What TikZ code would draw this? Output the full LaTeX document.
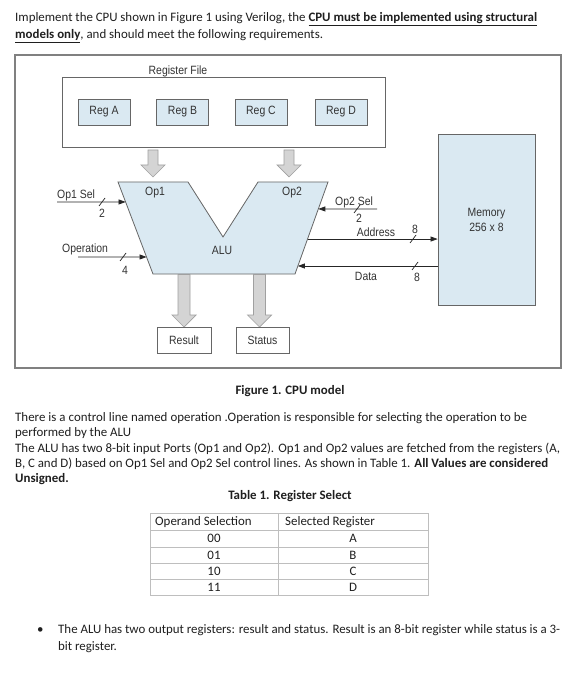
\documentclass[tikz,border=0pt]{standalone}
\usepackage{fontspec}
\setmainfont{Carlito}
\newfontfamily\diagfont{Liberation Sans}[FakeStretch=0.87]
\usetikzlibrary{arrows.meta,calc}
\definecolor{boxblue}{RGB}{218,233,242}
\definecolor{arrgray}{RGB}{212,212,212}
\definecolor{arredge}{RGB}{160,160,160}
\definecolor{tabline}{RGB}{190,190,190}
\newcommand\fitline[2]{\makebox[#1][s]{#2}}
\begin{document}
\begin{tikzpicture}[x=1pt,y=-1pt,
  txt/.style={anchor=base west, inner sep=0pt, font=\fontsize{12.9}{15}\selectfont, text=black!88},
  ctxt/.style={anchor=base, inner sep=0pt, font=\fontsize{12.9}{15}\selectfont, text=black!88},
  dtxt/.style={inner sep=0pt, font=\diagfont\fontsize{12}{14}\selectfont, text=black!80},
  reg/.style={draw=black!60, fill=boxblue, line width=0.8pt, minimum width=52pt, minimum height=26pt, inner sep=0pt, font=\diagfont\fontsize{12}{14}\selectfont, text=black!80},
  obox/.style={draw=black!60, fill=white, line width=0.8pt, minimum height=26pt, inner sep=0pt, font=\diagfont\fontsize{12}{14}\selectfont, text=black!80},
  sig/.style={draw=black!85, line width=0.7pt, -{Triangle[length=7pt,width=5pt]}},
  wire/.style={draw=black!85, line width=0.7pt},
  gblock/.style={draw=arredge, fill=arrgray, line width=0.7pt},
  tab/.style={draw=tabline, line width=0.6pt}
]
\useasboundingbox (0,0) rectangle (580,700);
\fill[white] (0,0) rectangle (580,700);

% ---------- top text ----------
\node[txt] (t1) at (15,22) {\fitline{522pt}{Implement the CPU shown in Figure 1 using Verilog, the \underline{\textbf{CPU must be implemented using structural}}}};
\node[txt] (t2) at (15,39) {\underline{\textbf{models only}}, and should meet the following requirements.};

% ---------- figure frame ----------
\draw[draw=black!50, line width=1.2pt] (15,55) rectangle (561,368);

% register file
\node[dtxt] (rflabel) at (178,71) {Register File};
\draw[draw=black!60, line width=0.8pt] (62,77) rectangle (385,147);
\node[reg] (rA) at (104,112) {Reg A};
\node[reg] (rB) at (182.5,112) {Reg B};
\node[reg] (rC) at (261,112) {Reg C};
\node[reg] (rD) at (341,112) {Reg D};

% ALU shape
\coordinate (aTL) at (118,182);
\coordinate (aN1) at (188,182);
\coordinate (aV) at (223,237);
\coordinate (aN2) at (258,182);
\coordinate (aTR) at (328,182);
\coordinate (aBR) at (295,274);
\coordinate (aBL) at (153,274);
\draw[draw=black!60, fill=boxblue, line width=0.8pt] (aTL) -- (aN1) -- (aV) -- (aN2) -- (aTR) -- (aBR) -- (aBL) -- cycle;
\node[dtxt] (op1) at (155,193) {Op1};
\node[dtxt] (op2) at (292,193) {Op2};
\node[dtxt] (alu) at (222,250) {ALU};

% gray block arrows (register file -> ALU)
\foreach \cx in {153,289}{
  \draw[gblock] (\cx-5,150) -- (\cx+5,150) -- (\cx+5,165) -- (\cx+12,165) -- (\cx,177) -- (\cx-12,165) -- (\cx-5,165) -- cycle;
}
% gray block arrows (ALU -> outputs)
\foreach \cx in {184,259.5}{
  \draw[gblock] (\cx-6,274.5) -- (\cx+6,274.5) -- (\cx+6,315) -- (\cx+12,315) -- (\cx,327) -- (\cx-12,315) -- (\cx-6,315) -- cycle;
}
\node[obox, minimum width=54pt] (res) at (184,340) {Result};
\node[obox, minimum width=53pt] (stat) at (262.5,340) {Status};

% memory
\node[draw=black!60, fill=boxblue, line width=0.8pt, minimum width=97pt, minimum height=171pt, inner sep=0pt, align=center, font=\diagfont\fontsize{12}{15}\selectfont, text=black!80] (mem) at (486.5,219.5) {Memory\\256 x 8};

% ---------- control signals ----------
% Op1 Sel
\coordinate (op1s) at (57,202);
\coordinate (aL1) at ($(aTL)!0.217!(aBL)$);
\draw[sig] (op1s) -- (aL1);
\node[dtxt, anchor=base west] (op1sl) at (57,199) {Op1 Sel};
\draw[wire] (99,206) -- (105,198);
\node[dtxt] (op1w) at (102,213) {2};

% Operation
\coordinate (opn) at (78,257);
\coordinate (aL2) at ($(aTL)!0.815!(aBL)$);
\draw[sig] (opn) -- (aL2);
\node[dtxt, anchor=base west] (opnl) at (62,253) {Operation};
\draw[wire] (120,261) -- (126,253);
\node[dtxt] (opnw) at (125,270) {4};

% Op2 Sel
\coordinate (op2s) at (377,209);
\coordinate (aR1) at ($(aTR)!0.293!(aBR)$);
\draw[sig] (op2s) -- (aR1);
\node[dtxt, anchor=base west] (op2sl) at (335,206) {Op2 Sel};
\draw[wire] (354,213) -- (360,205);
\node[dtxt] (op2w) at (359,218) {2};

% Address
\coordinate (aR2) at ($(aTR)!0.620!(aBR)$);
\draw[sig] (aR2) -- (aR2 -| mem.west);
\node[dtxt] (addl) at (376,232) {Address};
\draw[wire] (410,243) -- (416,235);
\node[dtxt] (addw) at (415,229) {8};

% Data
\coordinate (aR3) at ($(aTR)!0.913!(aBR)$);
\draw[sig] (aR3 -| mem.west) -- (aR3);
\node[dtxt] (datl) at (366,276) {Data};
\draw[wire] (412,270) -- (418,262);
\node[dtxt] (datw) at (417,277) {8};

% ---------- caption & text ----------
\node[ctxt] (cap) at (290,394) {\textbf{Figure 1. CPU model}};
\node[txt] (p1) at (15,421) {\fitline{512pt}{There is a control line named operation .Operation is responsible for selecting the operation to be}};
\node[txt] (p2) at (15,436) {performed by the ALU};
\node[txt] (p3) at (15,452) {\fitline{545pt}{The ALU has two 8-bit input Ports (Op1 and Op2). Op1 and Op2 values are fetched from the registers (A,}};
\node[txt] (p4) at (15,467) {\fitline{533pt}{B, C and D) based on Op1 Sel and Op2 Sel control lines. As shown in Table 1. \textbf{All Values are considered}}};
\node[txt] (p5) at (15,482) {\textbf{Unsigned.}};
\node[ctxt] (tcap) at (290,499) {\textbf{Table 1. Register Select}};

% ---------- table ----------
\draw[tab] (150,513) rectangle (428,595);
\foreach \yy in {530,547,563,579}{ \draw[tab] (150,\yy) -- (428,\yy); }
\draw[tab] (278,513) -- (278,595);
\node[txt] (h1) at (155,525.5) {Operand Selection};
\node[txt] (h2) at (285,525.5) {Selected Register};
\node[ctxt] (c00) at (214,542.5) {00};
\node[ctxt] (c01) at (214,559) {01};
\node[ctxt] (c10) at (214,575) {10};
\node[ctxt] (c11) at (214,591) {11};
\node[ctxt] (cA) at (353,542.5) {A};
\node[ctxt] (cB) at (353,559) {B};
\node[ctxt] (cC) at (353,575) {C};
\node[ctxt] (cD) at (353,591) {D};

% ---------- bullet ----------
\node[txt] (bul) at (37,633) {\textbullet};
\node[txt] (b1) at (58,633) {\fitline{502pt}{The ALU has two output registers: result and status. Result is an 8-bit register while status is a 3-}};
\node[txt] (b2) at (58,650) {bit register.};
\end{tikzpicture}
\end{document}
